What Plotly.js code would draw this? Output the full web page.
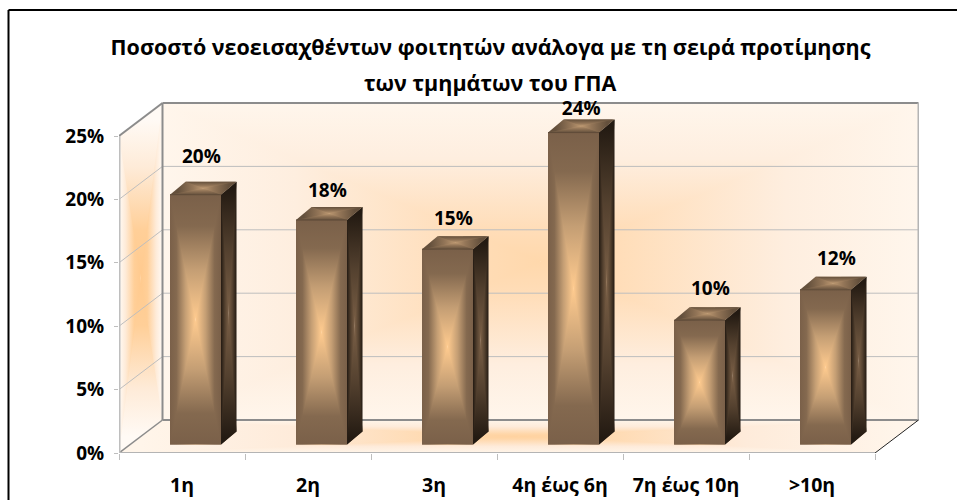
<!DOCTYPE html>
<html><head><meta charset="utf-8">
<script src="https://cdn.plot.ly/plotly-3.0.1.min.js"></script>
<style>html,body{margin:0;padding:0;background:#fff}#c{width:957px;height:500px}</style>
</head><body><div id="c"></div>
<script>
const categories = ['1η','2η','3η','4η έως 6η','7η έως 10η','>10η'];
const values = [19.7,17.7,15.4,24.6,9.8,12.2];
const valueLabels = ['20%','18%','15%','24%','10%','12%'];
const yTicks = [0,5,10,15,20,25];
const titleLines = ['Ποσοστό νεοεισαχθέντων φοιτητών ανάλογα με τη σειρά προτίμησης','των τμημάτων του ΓΠΑ'];

const FONT = 'Open Sans, Noto Sans, sans-serif';
const W=957,H=500;
const X0=119,X1=919,Y0=453,Y1=102,PITCH=126,PXU=12.68;
const dX=43.5/PITCH,dY=33/PXU;
const barOff=51/PITCH,barW=51/PITCH,barLift=8.5/PXU,bdX=15.5/PITCH,bdY=13/PXU;
const labelLift=[2.85,2.2,2.3,1.75,2.4,2.35];
const labelShift=[-0.015,-0.015,-0.015,0,0.025,0.025];

const traces=[];
function mid(a,b){return [(a[0]+b[0])/2,(a[1]+b[1])/2];}
// Four-sided face, corners in the order bottom-left, bottom-right, top-right, top-left,
// shaded from its edges towards its centre.
function face(p,stops){
  const cx=p.reduce((a,q)=>a+q[0],0)/4, cy=p.reduce((a,q)=>a+q[1],0)/4;
  [1,3].forEach(i=>{
    const a=p[i],b=p[(i+1)%4],c=p[(i+2)%4],d=p[(i+3)%4],m=mid(a,b),n=mid(b,c),o=mid(d,a);
    traces.push({type:'scatter',mode:'lines',x:[a[0],b[0],n[0],o[0],a[0]],y:[a[1],b[1],n[1],o[1],a[1]],
      fill:'toself',line:{width:0},hoverinfo:'skip',showlegend:false,
      fillgradient:{type:'horizontal',start:m[0],stop:cx,colorscale:stops}});
  });
  [0,2].forEach(i=>{
    const a=p[i],b=p[(i+1)%4],m=mid(a,b);
    traces.push({type:'scatter',mode:'lines',x:[a[0],b[0],cx,a[0]],y:[a[1],b[1],cy,a[1]],
      fill:'toself',line:{width:0},hoverinfo:'skip',showlegend:false,
      fillgradient:{type:'vertical',start:m[1],stop:cy,colorscale:stops}});
  });
}
function line(xs,ys,color,width){
  traces.push({type:'scatter',mode:'lines',x:xs,y:ys,line:{color:color,width:width},hoverinfo:'skip',showlegend:false,cliponaxis:false});
}
const wallBack=[[0,'#FFF6EC'],[0.35,'#FEEEDF'],[0.8,'#FFDDB8'],[1,'#FFD8AC']];
const wallSide=[[0,'#FFFAF5'],[0.3,'#FEEBD8'],[0.7,'#FFCF98'],[1,'#FFCA8E']];
const wallFloor=[[0,'#FFF5EA'],[0.4,'#FEEBDA'],[0.85,'#FFD6A8'],[1,'#FFD2A0']];
const wallTop=25;
face([[dX,dY],[6+dX,dY],[6+dX,wallTop+dY],[dX,wallTop+dY]],wallBack);
face([[0,0],[dX,dY],[dX,wallTop+dY],[0,wallTop]],wallSide);
face([[0,0],[6,0],[6+dX,dY],[dX,dY]],wallFloor);

[5,10,15,20].forEach(v=>line([0,dX,6+dX],[v,v+dY,v+dY],'#BEBEBE',1));
line([dX,dX],[dY,wallTop+dY],'#8C8C8C',2);
line([dX,6+dX],[wallTop+dY,wallTop+dY],'#8C8C8C',2);
line([dX,6+dX],[dY,dY],'#8C8C8C',2);
line([6+dX,6+dX],[dY,wallTop+dY],'#B4B4B4',2);
line([0,dX],[wallTop,wallTop+dY],'#8C8C8C',2);
line([0,dX],[0,dY],'#8C8C8C',1.5);
line([6,6+dX],[0,dY],'#222222',1);
line([0,6],[0,0],'#B4B4B4',2);
line([0,0],[0,wallTop],'#BEBEBE',3);

const frontStops=[[0,'#7A6049'],[0.25,'#84694F'],[0.6,'#C49E74'],[1,'#FFCB8F']];
const sideStops=[[0,'#231A12'],[0.5,'#54412F'],[1,'#7A5F46']];
const topStops=[[0,'#64503C'],[0.6,'#947658'],[1,'#BC9871']];
values.forEach((v,i)=>{
  const xa=i+barOff,xb=xa+barW,y0=barLift,y1=v+barLift;
  face([[xa,y0],[xb,y0],[xb,y1],[xa,y1]],frontStops);
  face([[xb,y0],[xb+bdX,y0+bdY],[xb+bdX,y1+bdY],[xb,y1]],sideStops);
  face([[xa,y1],[xb,y1],[xb+bdX,y1+bdY],[xa+bdX,y1+bdY]],topStops);
  line([xa,xb],[y1,y1],'#5E4A38',1);
});
traces.push({type:'scatter',mode:'text',cliponaxis:false,hoverinfo:'skip',showlegend:false,
  x:values.map((v,i)=>i+barOff+barW/2+bdX/2+labelShift[i]),
  y:values.map((v,i)=>v+barLift+labelLift[i]),
  text:valueLabels,textposition:'middle center',
  textfont:{family:FONT,size:19,color:'#000',weight:700}});

const titleFont={family:FONT,size:21.5,color:'#000',weight:700};
const layout={
  width:W,height:H,margin:{l:0,r:0,t:0,b:0},paper_bgcolor:'#fff',plot_bgcolor:'rgba(0,0,0,0)',showlegend:false,
  title:{text:titleLines[0],x:(111+870)/2/W,xanchor:'center',y:1-47/H,yanchor:'middle',font:titleFont},
  annotations:[{text:titleLines[1],xref:'paper',yref:'paper',x:(111+870)/2/W,y:1-82/H,xanchor:'center',yanchor:'middle',showarrow:false,font:titleFont}],
  xaxis:{domain:[X0/W,X1/W],range:[0,(X1-X0)/PITCH],showgrid:false,zeroline:false,showline:false,
    tickmode:'array',tickvals:categories.map((c,i)=>i+0.5),ticktext:categories,ticks:'',ticklabelstandoff:18,
    tickfont:{family:FONT,size:19.5,color:'#000',weight:700},
    minor:{tick0:0,dtick:1,ticks:'outside',ticklen:6,tickcolor:'#BEBEBE',tickwidth:1,showgrid:false}},
  yaxis:{domain:[(H-Y0)/H,(H-Y1)/H],range:[0,(Y0-Y1)/PXU],showgrid:false,zeroline:false,showline:false,
    tickmode:'array',tickvals:yTicks,ticktext:yTicks.map(t=>t+'%'),ticks:'outside',ticklen:4,tickcolor:'#BEBEBE',tickwidth:1,ticklabelstandoff:6,
    tickfont:{family:FONT,size:19,color:'#000',weight:700}},
  shapes:[
    {type:'line',xref:'paper',yref:'paper',x0:8.5/W,x1:1,y0:1-10/H,y1:1-10/H,line:{color:'#000',width:2}},
    {type:'line',xref:'paper',yref:'paper',x0:8.5/W,x1:8.5/W,y0:0,y1:1-10/H,line:{color:'#000',width:2}}]
};
Plotly.newPlot('c',traces,layout,{displayModeBar:false,staticPlot:true});
</script></body></html>
